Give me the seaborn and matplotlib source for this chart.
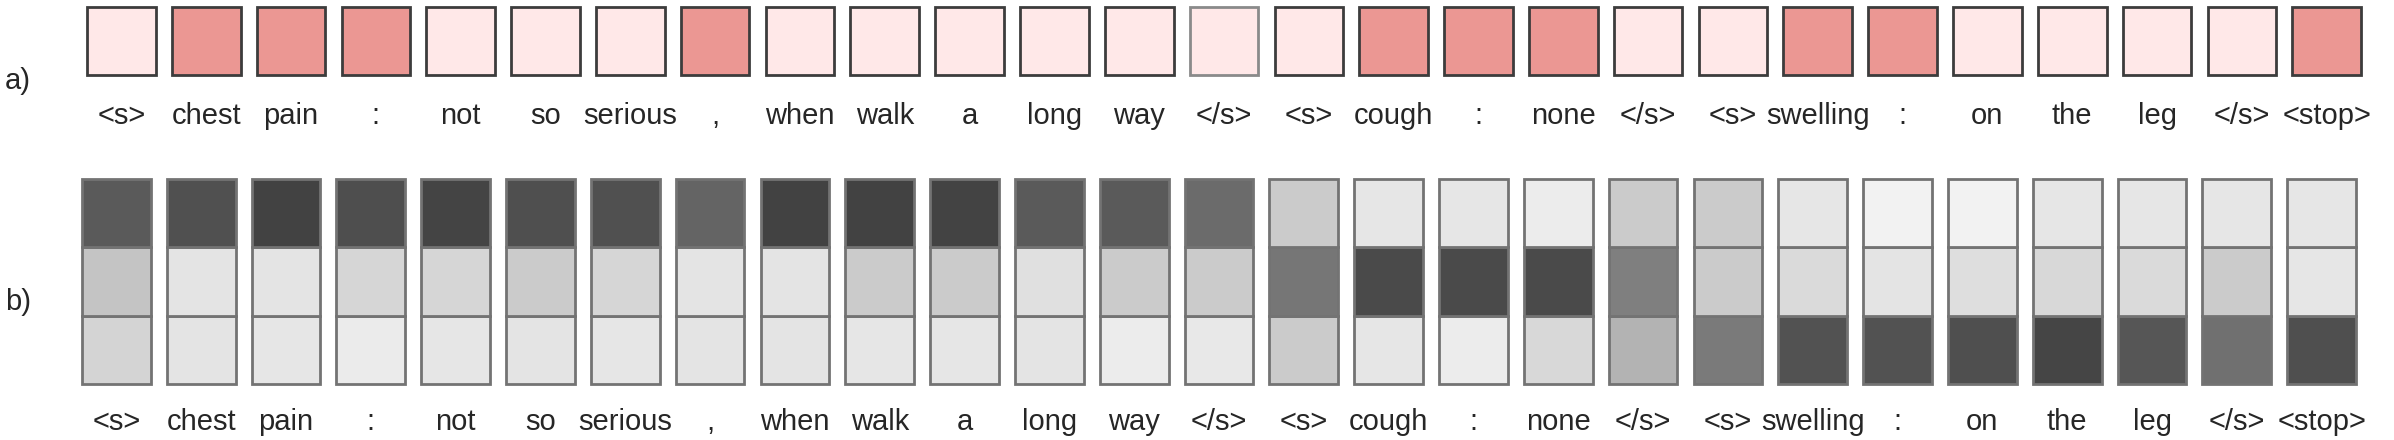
import pandas as pd
import seaborn as sns
import matplotlib.pyplot as plt

# tokens of the generated report
tokens = ['<s>', 'chest', 'pain', ':', 'not', 'so', 'serious', ',', 'when', 'walk', 'a', 'long', 'way', '</s>',
          '<s>', 'cough', ':', 'none', '</s>', '<s>', 'swelling', ':', 'on', 'the', 'leg', '</s>', '<stop>']

# a) 1 = highlighted token, 0 = not
highlight = [0, 1, 1, 1, 0, 0, 0, 1, 0, 0, 0, 0, 0, 0, 0, 1, 1, 1, 0, 0, 1, 1, 0, 0, 0, 0, 1]

# b) grey level of each cell (0 = black, 255 = white), top / middle / bottom
grey_top = [90, 80, 66, 78, 68, 79, 80, 100, 66, 66, 67, 90, 90, 107, 203, 230, 230, 236,
            203, 203, 230, 242, 242, 230, 230, 230, 230]
grey_mid = [196, 228, 228, 214, 214, 203, 214, 228, 228, 203, 203, 224, 203, 203, 118, 74, 74, 74,
            127, 203, 218, 228, 222, 216, 218, 203, 230]
grey_bot = [212, 228, 230, 235, 230, 228, 230, 228, 228, 230, 230, 228, 236, 232, 203, 230, 236, 216,
            179, 122, 82, 82, 79, 69, 86, 112, 79]

light_pink = '#FFE8E8'
salmon = '#EB9793'

sns.set_theme(style='white')
plt.rcParams['font.family'] = ['Liberation Sans', 'DejaVu Sans']

ids = [f'{i:02d}' for i in range(len(tokens))]
df = pd.DataFrame({'pos': ids, 'h': 1})


def grey(v):
    g = v / 255
    return (g, g, g)


fig = plt.figure(figsize=(23.94, 4.40), dpi=100)
ax_a = fig.add_axes([0.0330, 0.8295, 0.9566, 0.1545])
ax_b = fig.add_axes([0.0309, 0.1273, 0.9566, 0.4660])

# row a)
pal_a = {p: (salmon if v else light_pink) for p, v in zip(ids, highlight)}
sns.barplot(data=df, x='pos', y='h', hue='pos', palette=pal_a, saturation=1, width=0.81, errorbar=None,
            edgecolor='#3c3c3c', linewidth=2, legend=False, clip_on=False, ax=ax_a)
ax_a.patches[13].set_edgecolor('#8a8a8a')
ax_a.set_ylim(0, 1)

# row b) three stacked cells per token
for level, vals in enumerate([grey_bot, grey_mid, grey_top]):
    pal_b = {p: grey(v) for p, v in zip(ids, vals)}
    sns.barplot(data=df, x='pos', y='h', hue='pos', palette=pal_b, saturation=1, width=0.81, errorbar=None,
                bottom=level, edgecolor='#737373', linewidth=2, legend=False, clip_on=False, ax=ax_b)
ax_b.set_ylim(0, 3)

for ax, pad in [(ax_a, 19.5), (ax_b, 17.5)]:
    ax.set_xlim(-0.5, len(tokens) - 0.5)
    ax.set_xticks(range(len(tokens)))
    ax.set_xticklabels(tokens, fontsize=21)
    ax.set_yticks([])
    ax.tick_params(axis='x', length=0, pad=pad)
    ax.set(xlabel='', ylabel='')
    for s in ax.spines.values():
        s.set_visible(False)
    ax.patch.set_alpha(0)

fig.text(0.002, 1 - 81 / 440, 'a)', va='center', ha='left', fontsize=21)
fig.text(0.002, 1 - 302 / 440, 'b)', va='center', ha='left', fontsize=21)

fig.savefig('out.png', dpi=100, facecolor='white')
